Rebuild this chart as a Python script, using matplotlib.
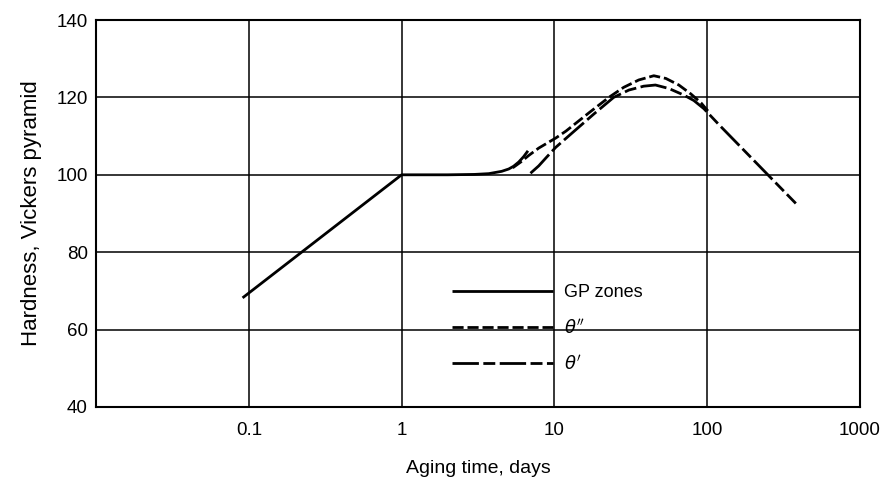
import numpy as np
import matplotlib.pyplot as plt

# datos (tiempo en días, dureza Vickers)
gp_t = [0.091, 1.0, 2.0, 3.0, 3.72, 4.52, 5.02, 5.4, 5.84, 6.29, 6.71]
gp_hv = [68.2, 100.0, 100.0, 100.1, 100.3, 100.9, 101.5, 102.2, 103.3, 104.7, 106.2]

th2_t = [5.33, 6.02, 6.79, 7.89, 10.2, 11.9, 16.8, 22.7, 28.4, 35.6, 44.7,
         53.6, 65.2, 78.1, 91.0, 101.0]
th2_hv = [101.8, 103.3, 105.0, 106.9, 109.5, 111.3, 116.0, 120.0, 122.6, 124.5, 125.6,
          124.9, 123.2, 120.9, 118.6, 116.5]

th1_t = [6.97, 7.89, 8.91, 10.2, 13.4, 18.1, 24.4, 30.7, 38.4, 45.8, 56.1,
         70.3, 81.7, 95.0, 119.0, 380.0]
th1_hv = [100.4, 102.3, 104.6, 107.1, 111.2, 115.7, 120.0, 121.9, 122.9, 123.2, 122.3,
          120.6, 119.2, 117.1, 113.0, 92.6]

x_ticks = [0.1, 1, 10, 100, 1000]
x_labels = ["0.1", "1", "10", "100", "1000"]
y_ticks = [40, 60, 80, 100, 120, 140]

plt.rcParams['font.family'] = ['Liberation Sans', 'DejaVu Sans']

fig = plt.figure(figsize=(8.85, 4.88), dpi=100)
ax = fig.add_axes([0.1085, 0.166, 0.8633, 0.793])

ax.plot(gp_t, gp_hv, color='black', lw=2, solid_capstyle='butt', label='GP zones')
ax.plot(th2_t, th2_hv, color='black', lw=2, linestyle=(0, (4.0, 1.4)), label=r"$\theta''$")
ax.plot(th1_t, th1_hv, color='black', lw=2, linestyle=(0, (9.5, 1.6, 4.3, 1.6)), label=r"$\theta'$")

ax.set_xscale('log')
ax.set_xlim(0.01, 1000)
ax.set_ylim(40, 140)
ax.set_xticks(x_ticks)
ax.set_xticklabels(x_labels)
ax.xaxis.set_minor_locator(plt.NullLocator())
ax.set_yticks(y_ticks)
ax.grid(True, color='black', lw=1.1)
ax.tick_params(length=0, labelsize=13.5)
ax.tick_params(axis='x', pad=11)
ax.tick_params(axis='y', pad=6)
for s in ax.spines.values():
    s.set_linewidth(1.5)

ax.set_xlabel("Aging time, days", fontsize=14, labelpad=15)
ax.set_ylabel("Hardness, Vickers pyramid", fontsize=16, labelpad=10)

ax.legend(loc='upper left', bbox_to_anchor=(0.466, 0.318), frameon=False,
          fontsize=13, handlelength=5.6, handletextpad=0.6, labelspacing=0.95,
          borderpad=0, borderaxespad=0)

fig.savefig("out.png", dpi=100)
